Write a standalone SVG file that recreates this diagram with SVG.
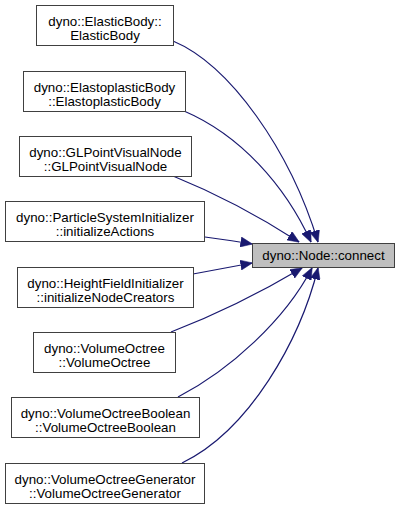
<svg xmlns="http://www.w3.org/2000/svg" width="400" height="509" viewBox="0 0 400 509">
<style>
.box{fill:#ffffff;stroke:#404040;stroke-width:1}
.tgt{fill:#bfbfbf;stroke:#404040;stroke-width:1}
text{font-family:"Liberation Sans",Arial,sans-serif;font-size:13.33px;fill:#000;text-anchor:middle}
.edge{fill:none;stroke:#191970;stroke-width:1.2;marker-end:url(#arr)}
</style>
<defs>
<marker id="arr" viewBox="0 0 12 10" refX="11.5" refY="5" markerWidth="12" markerHeight="10" markerUnits="userSpaceOnUse" orient="auto">
<path d="M0,0 L12,5 L0,10 z" fill="#191970" stroke="#191970" stroke-width="0.5"/>
</marker>
</defs>
<rect width="400" height="509" fill="#ffffff"/>
<g id="connectors">
<path class="edge" d="M173,41 C230,65 290,150 318,242"/>
<path class="edge" d="M184,111 C240,135 285,185 311,242"/>
<path class="edge" d="M173,176 C220,195 265,220 299,242"/>
<path class="edge" d="M205,237 C220,239 235,241 252,244"/>
<path class="edge" d="M193,274 C210,271 230,267 252,263"/>
<path class="edge" d="M171,332 C215,315 265,290 302,268"/>
<path class="edge" d="M178,397 C230,370 285,320 312,268"/>
<path class="edge" d="M182,463 C250,430 300,340 318,268"/>
</g>
<g id="target">
<rect class="tgt" x="252.5" y="243.5" width="142" height="24"/>
<text x="323.5" y="260">dyno::Node::connect</text>
</g>
<g id="n1">
<rect class="box" x="36.5" y="5.5" width="137" height="40"/>
<text x="105" y="26">dyno::ElasticBody::</text>
<text x="105" y="40">ElasticBody</text>
</g>
<g id="n2">
<rect class="box" x="23.5" y="71.5" width="162" height="40"/>
<text x="104.5" y="92">dyno::ElastoplasticBody</text>
<text x="104.5" y="106">::ElastoplasticBody</text>
</g>
<g id="n3">
<rect class="box" x="19.5" y="136.5" width="172" height="40"/>
<text x="105.5" y="157">dyno::GLPointVisualNode</text>
<text x="105.5" y="171">::GLPointVisualNode</text>
</g>
<g id="n4">
<rect class="box" x="5.5" y="201.5" width="199" height="40"/>
<text x="105" y="222">dyno::ParticleSystemInitializer</text>
<text x="105" y="236">::initializeActions</text>
</g>
<g id="n5">
<rect class="box" x="17.5" y="267.5" width="176" height="40"/>
<text x="105.5" y="288">dyno::HeightFieldInitializer</text>
<text x="105.5" y="302">::initializeNodeCreators</text>
</g>
<g id="n6">
<rect class="box" x="33.5" y="332.5" width="142" height="40"/>
<text x="104.5" y="353">dyno::VolumeOctree</text>
<text x="104.5" y="367">::VolumeOctree</text>
</g>
<g id="n7">
<rect class="box" x="11.5" y="397.5" width="188" height="40"/>
<text x="105.5" y="418">dyno::VolumeOctreeBoolean</text>
<text x="105.5" y="432">::VolumeOctreeBoolean</text>
</g>
<g id="n8">
<rect class="box" x="5.5" y="463.5" width="199" height="40"/>
<text x="105" y="484">dyno::VolumeOctreeGenerator</text>
<text x="105" y="498">::VolumeOctreeGenerator</text>
</g>
</svg>
